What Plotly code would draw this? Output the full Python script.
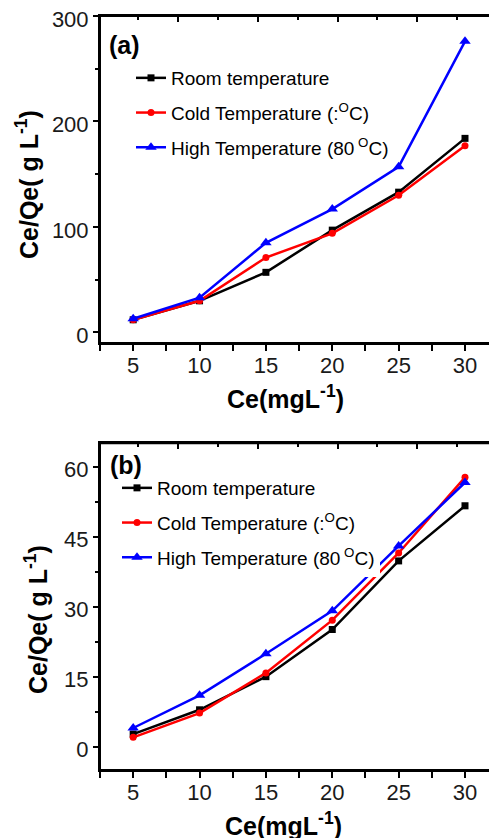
import plotly.graph_objects as go

ce = [5, 10, 15, 20, 25, 30]

# Panel (a)
a_room = [12, 30, 57, 97, 133, 184]
a_cold = [12, 30, 71, 94, 130, 177]
a_high = [13, 33, 85, 117, 157, 276]

# Panel (b)
b_room = [2.7, 7.9, 15.0, 25.1, 39.8, 51.6]
b_cold = [2.0, 7.2, 15.8, 27.1, 41.5, 57.7]
b_high = [4.0, 11.0, 19.9, 29.1, 43.0, 56.6]

names = ["Room temperature", "Cold Temperature (:<sup>O</sup>C)", "High Temperature (80<sup> O</sup>C)"]
colors = ["#000000", "#ff0000", "#0000ff"]
symbols = ["square", "circle", "triangle-up"]
msizes = [7, 7, 10]

OFF = 8  # page body margin
W, H = 497 - OFF, 838 - OFF
FONT = "Liberation Sans, Arial, sans-serif"

def px_x(p):
    return (p - OFF) / W

def px_y(p):
    return 1 - (p - OFF) / H

fig = go.Figure()

for i, ys in enumerate([a_room, a_cold, a_high]):
    fig.add_trace(go.Scatter(
        x=ce, y=ys, mode="lines+markers", name=names[i],
        line=dict(color=colors[i], width=2.5),
        marker=dict(symbol=symbols[i], size=msizes[i], color=colors[i]),
        xaxis="x", yaxis="y", legend="legend", legendgroup="a%d" % i,
    ))
for i, ys in enumerate([b_room, b_cold, b_high]):
    fig.add_trace(go.Scatter(
        x=ce, y=ys, mode="lines+markers", name=names[i],
        line=dict(color=colors[i], width=2.5),
        marker=dict(symbol=symbols[i], size=msizes[i], color=colors[i]),
        xaxis="x2", yaxis="y2", legend="legend2", legendgroup="b%d" % i,
    ))

# invisible companions on the overlaid (inside-tick) axes
for xa, ya, ys in [("x3", "y3", a_room), ("x4", "y4", b_room)]:
    fig.add_trace(go.Scatter(
        x=ce, y=ys, mode="lines", line=dict(width=0, color="rgba(0,0,0,0)"),
        opacity=0, hoverinfo="skip", showlegend=False, xaxis=xa, yaxis=ya,
    ))

xdom = [px_x(100), px_x(495)]
xrange = [2.5, 32.26]
ya_dom = [px_y(343), px_y(16)]
yb_dom = [px_y(770), px_y(443.3)]
ya_range = [-10, 300]
yb_range = [-5, 65]

tickfont = dict(family=FONT, size=22, color="#1a1a1a")

def xaxis_main(anchor):
    return dict(
        domain=xdom, range=xrange, anchor=anchor, automargin=False,
        showline=True, linecolor="black", linewidth=2, mirror=True,
        ticks="outside", ticklen=6, tickwidth=2, tickcolor="black",
        tick0=5, dtick=5, tickfont=tickfont, ticklabelstandoff=-4,
        ticklabeloverflow="allow",
        minor=dict(ticks="outside", ticklen=6, tickwidth=2, tickcolor="black", tick0=2.5, dtick=5),
        showgrid=False, zeroline=False, fixedrange=True,
    )

def xaxis_top(over, anchor):
    return dict(
        domain=xdom, range=xrange, anchor=anchor, overlaying=over, side="top", automargin=False,
        showline=False, ticks="inside", ticklen=6, tickwidth=2, tickcolor="black",
        tick0=8.4, dtick=6, showticklabels=False,
        minor=dict(ticks="inside", ticklen=4, tickwidth=2, tickcolor="black", tick0=5.4, dtick=6),
        showgrid=False, zeroline=False, fixedrange=True,
    )

def yaxis_main(anchor, dom, rng, dt, mdt):
    return dict(
        domain=dom, range=rng, anchor=anchor, automargin=False,
        showline=True, linecolor="black", linewidth=2, mirror=True,
        ticks="outside", ticklen=5, tickwidth=2, tickcolor="black",
        tick0=0, dtick=dt, tickfont=tickfont, ticklabeloverflow="allow",
        ticklabelshift=3,
        minor=dict(ticks="outside", ticklen=3, tickwidth=1.5, tickcolor="black", tick0=0, dtick=mdt),
        showgrid=False, zeroline=False, fixedrange=True,
    )

def yaxis_right(over, anchor, dom, rng, t0, dt):
    return dict(
        domain=dom, range=rng, anchor=anchor, overlaying=over, side="right", automargin=False,
        showline=False, ticks="inside", ticklen=5, tickwidth=2, tickcolor="black",
        tick0=t0, dtick=dt, showticklabels=False,
        showgrid=False, zeroline=False, fixedrange=True,
    )

legend_common = dict(
    font=dict(family=FONT, size=19, color="black"),
    bgcolor="white", borderwidth=0, tracegroupgap=7,
    xanchor="left", yanchor="top", itemwidth=30,
)

frame = dict(color="black", width=2)
shapes = [
    dict(type="rect", xref="paper", yref="paper", x0=xdom[0], x1=xdom[1], y0=ya_dom[0], y1=ya_dom[1],
         line=frame, fillcolor="rgba(0,0,0,0)", layer="above"),
    dict(type="rect", xref="paper", yref="paper", x0=xdom[0], x1=xdom[1], y0=yb_dom[0], y1=yb_dom[1],
         line=frame, fillcolor="rgba(0,0,0,0)", layer="above"),
]

def ann(text, x, y, size, angle=0):
    return dict(text=text, x=px_x(x), y=px_y(y), xref="paper", yref="paper",
                xanchor="center", yanchor="middle", showarrow=False, textangle=angle,
                font=dict(family=FONT, size=size, color="black"))

fig.update_layout(
    width=W, height=H,
    margin=dict(l=0, r=0, t=0, b=0, autoexpand=False),
    paper_bgcolor="white", plot_bgcolor="rgba(0,0,0,0)",
    showlegend=True,
    xaxis=xaxis_main("y"),
    xaxis2=xaxis_main("y2"),
    xaxis3=xaxis_top("x", "y"),
    xaxis4=xaxis_top("x2", "y2"),
    yaxis=yaxis_main("x", ya_dom, ya_range, 100, 50),
    yaxis2=yaxis_main("x2", yb_dom, yb_range, 15, 7.5),
    yaxis3=yaxis_right("y", "x", ya_dom, ya_range, 22, 31),
    yaxis4=yaxis_right("y2", "x2", yb_dom, yb_range, 2.3, 7),
    legend=dict(x=px_x(131), y=px_y(59), **legend_common),
    legend2=dict(x=px_x(117), y=px_y(469), **legend_common),
    shapes=shapes,
    annotations=[
        ann("<b>(a)</b>", 124.5, 45, 25),
        ann("<b>(b)</b>", 126, 465, 25),
        ann("<b>Ce/Qe( g L<sup>-1</sup>)</b>", 27, 185, 25, -90),
        ann("<b>Ce/Qe( g L<sup>-1</sup>)</b>", 36, 620, 25, -90),
        ann("<b>Ce(mgL<sup>-1</sup>)</b>", 285, 397, 25),
        ann("<b>Ce(mgL<sup>-1</sup>)</b>", 283, 824, 25),
    ],
)

fig.write_html("out.html", config={"responsive": False})
